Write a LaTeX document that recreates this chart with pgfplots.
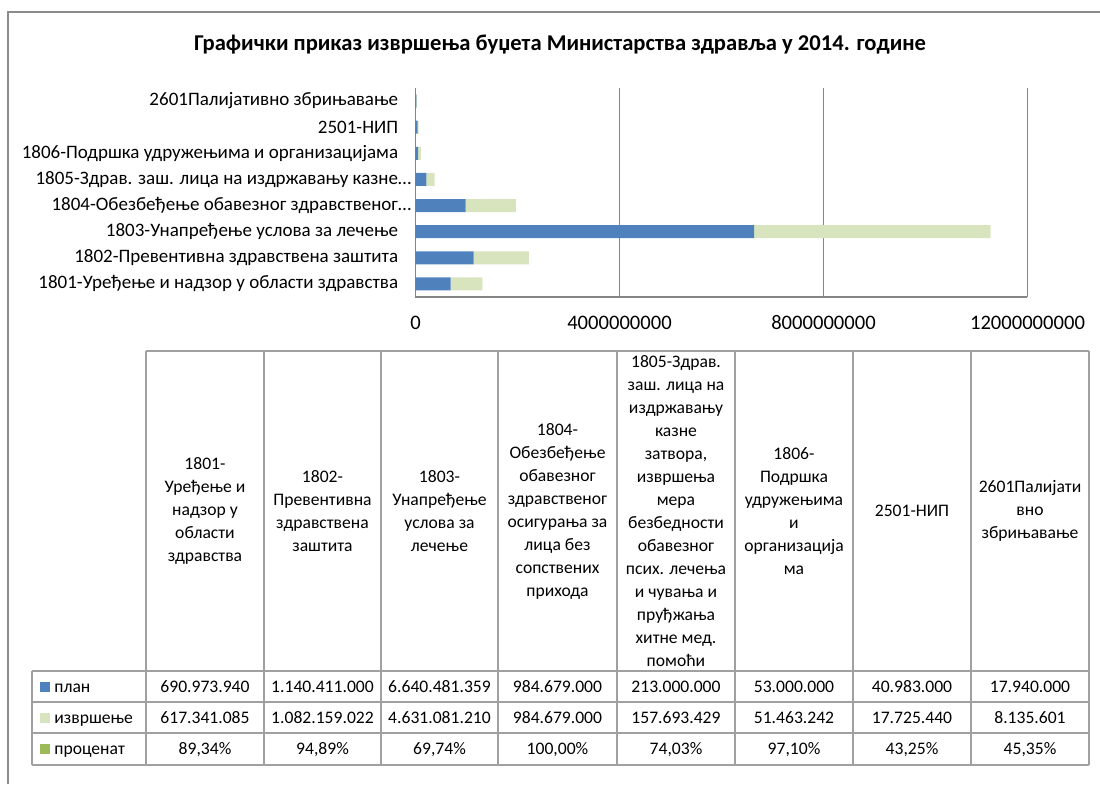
\documentclass[border=0pt]{standalone}
\usepackage{fontspec}
\setmainfont{Carlito}
\usepackage{pgfplots}
\pgfplotsset{compat=1.18}
\definecolor{plan}{HTML}{4F81BD}
\definecolor{izv}{HTML}{D7E4BD}
\definecolor{proc}{HTML}{9BBB59}
\definecolor{gridc}{HTML}{868686}
\definecolor{tabc}{HTML}{A0A0A0}
\definecolor{framec}{HTML}{8C8C8C}
\newcommand\tf{\fontsize{8.8}{11.5}\selectfont}
\newcommand\yf{\fontsize{9.5}{11.5}\selectfont}
\begin{document}
\begin{tikzpicture}
\useasboundingbox (0,0) rectangle (550pt,-392pt);
\begin{scope}[x=0.5pt,y=-0.5pt]
  % frame
  \draw[line width=1.3pt, color=framec] (8,784) -- (8,12) -- (1100,12);
  % title
  \node[font=\bfseries\fontsize{11.3}{13}\selectfont] at (560,45) {Графички приказ извршења буџета Министарства здравља у 2014. године};
  % table grid
  \foreach \xx in {146,264,381,498,617,735,853,971,1089} {
    \draw[tabc, line width=0.7pt] (\xx,351) -- (\xx,765);
  }
  \draw[tabc, line width=0.7pt] (32,671) -- (32,765);
  \draw[tabc, line width=0.7pt] (146,351) -- (1089,351);
  \foreach \yy in {671,702,733,765} {
    \draw[tabc, line width=0.7pt] (32,\yy) -- (1089,\yy);
  }
  % header
  \node[align=center, font=\tf] at (205,511) {1801-\\Уређење и\\надзор у\\области\\здравства};
  \node[align=center, font=\tf] at (322.5,511) {1802-\\Превентивна\\здравствена\\заштита};
  \node[align=center, font=\tf] at (439.5,511) {1803-\\Унапређење\\услова за\\лечење};
  \node[align=center, font=\tf] at (557.5,511) {1804-\\Обезбеђење\\обавезног\\здравственог\\осигурања за\\лица без\\сопствених\\прихода};
  \node[align=center, font=\tf] at (676,511) {1805-Здрав.\\заш. лица на\\издржавању\\казне\\затвора,\\извршења\\мера\\безбедности\\обавезног\\псих. лечења\\и чувања и\\пруђжања\\хитне мед.\\помоћи};
  \node[align=center, font=\tf] at (794,511) {1806-\\Подршка\\удружењима\\и\\организација\\ма};
  \node[align=center, font=\tf] at (912,511) {2501-НИП};
  \node[align=center, font=\tf] at (1030,511) {2601Палијати\\вно\\збрињавање};
  % legend column
  \fill[plan] (40,682) rectangle (50,692);
  \fill[izv] (40,713) rectangle (50,723);
  \fill[proc] (40,744) rectangle (50,754);
  \node[anchor=base west, font=\tf, inner sep=0pt] at (54,692) {план};
  \node[anchor=base west, font=\tf, inner sep=0pt] at (54,723) {извршење};
  \node[anchor=base west, font=\tf, inner sep=0pt] at (54,754.5) {проценат};
  % values
  \foreach \cx/\a/\b/\c in {205/690.973.940/617.341.085/{89,34\%},
                            322.5/1.140.411.000/1.082.159.022/{94,89\%},
                            439.5/6.640.481.359/4.631.081.210/{69,74\%},
                            557.5/984.679.000/984.679.000/{100,00\%},
                            676/213.000.000/157.693.429/{74,03\%},
                            794/53.000.000/51.463.242/{97,10\%},
                            912/40.983.000/17.725.440/{43,25\%},
                            1030/17.940.000/8.135.601/{45,35\%}} {
    \node[font=\tf, anchor=base, inner sep=0pt] at (\cx,692) {\a};
    \node[font=\tf, anchor=base, inner sep=0pt] at (\cx,723) {\b};
    \node[font=\tf, anchor=base, inner sep=0pt] at (\cx,754.5) {\c};
  }
\end{scope}
\begin{axis}[
  at={(207.75pt,-148.5pt)}, anchor=south west,
  scale only axis, width=306pt, height=104.5pt,
  xbar stacked, bar width=6.5pt,
  xmin=0, xmax=12000000000, ymin=-0.5, ymax=7.5,
  scaled x ticks=false,
  axis x line*=bottom, axis y line*=left,
  axis line style={-, draw=gridc, line width=0.6pt},
  xmajorgrids, major grid style={draw=gridc, line width=0.6pt},
  major tick length=0pt,
  xtick={0,4000000000,8000000000,12000000000},
  xticklabels={0,4000000000,8000000000,12000000000},
  xticklabel style={font=\fontsize{10.3}{12}\selectfont, anchor=center, yshift=-13pt},
  ytick={0,1,2,3,4,5,6,7},
  yticklabels={1801-Уређење и надзор у области здравства\hspace*{6.5pt},
               1802-Превентивна здравствена заштита\hspace*{6.5pt},
               1803-Унапређење услова за лечење\hspace*{6.5pt},
               1804-Обезбеђење обавезног здравственог…,
               1805-Здрав. заш. лица на издржавању казне…,
               1806-Подршка удружењима и организацијама\hspace*{6.5pt},
               2501-НИП\hspace*{6.5pt},
               2601Палијативно збрињавање\hspace*{6.5pt}},
  yticklabel style={font=\yf, anchor=east, inner sep=0pt, xshift=-2pt},
]
\addplot[fill=plan, draw=none] coordinates {(690973940,0) (1140411000,1) (6640481359,2) (984679000,3) (213000000,4) (53000000,5) (40983000,6) (17940000,7)};
\addplot[fill=izv, draw=none] coordinates {(617341085,0) (1082159022,1) (4631081210,2) (984679000,3) (157693429,4) (51463242,5) (17725440,6) (8135601,7)};
\addplot[fill=proc, draw=none] coordinates {(0.8934,0) (0.9489,1) (0.6974,2) (1.0,3) (0.7403,4) (0.9710,5) (0.4325,6) (0.4535,7)};
\end{axis}
\end{tikzpicture}
\end{document}
